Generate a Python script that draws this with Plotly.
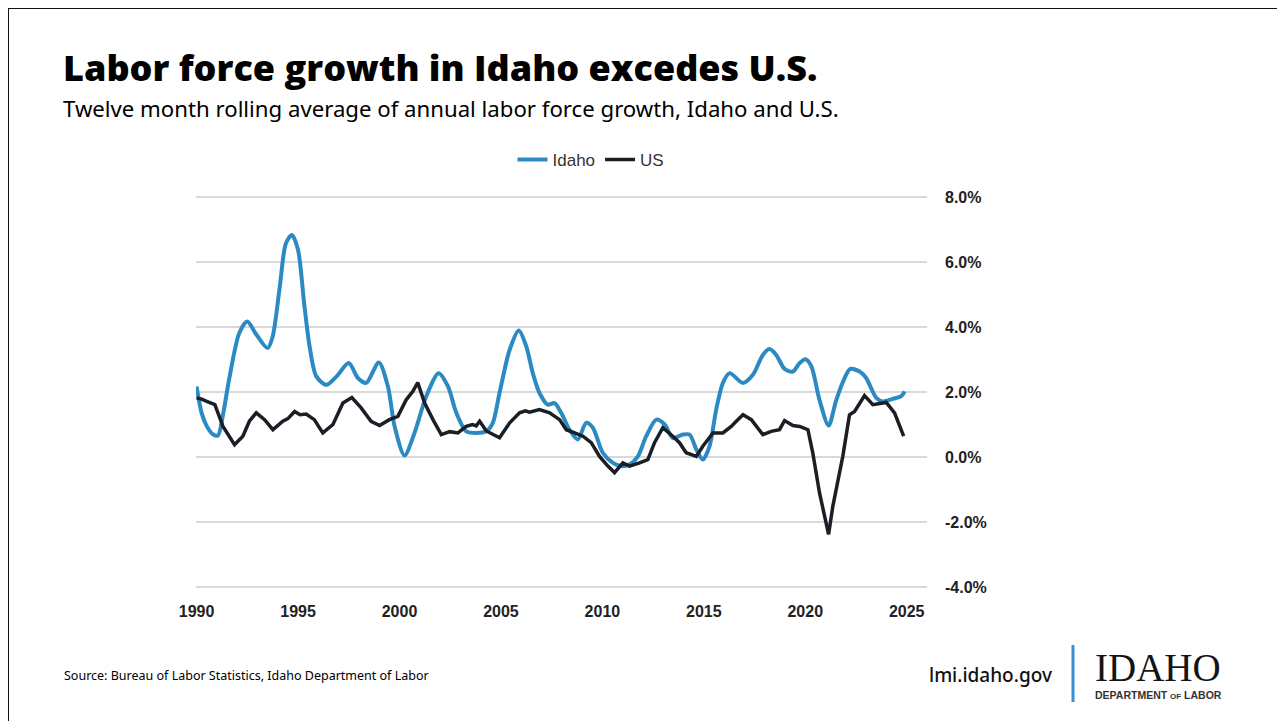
import plotly.graph_objects as go

# ---------------- data ----------------
idaho_x = [1990.0, 1990.25, 1990.5, 1990.8, 1991.05, 1991.3, 1991.6, 1992.1, 1992.5, 1992.9,
           1993.5, 1993.75, 1994.1, 1994.4, 1994.7, 1995.0, 1995.3, 1995.57, 1995.9, 1996.4,
           1996.9, 1997.5, 1997.95, 1998.36, 1998.98, 1999.43, 1999.76, 2000.25, 2000.74, 2001.32,
           2001.93, 2002.39, 2002.8, 2003.29, 2003.78, 2004.28, 2004.6, 2004.93, 2005.43, 2005.88,
           2006.25, 2006.57, 2006.9, 2007.31, 2007.64, 2007.97, 2008.38, 2008.79, 2009.2, 2009.53,
           2010.02, 2010.52, 2010.93, 2011.34, 2011.75, 2012.16, 2012.66, 2013.07, 2013.47, 2013.97,
           2014.3, 2014.63, 2014.95, 2015.28, 2015.61, 2015.94, 2016.27, 2016.93, 2017.42, 2017.91,
           2018.24, 2018.57, 2018.98, 2019.39, 2019.72, 2020.01, 2020.3, 2020.7, 2021.15, 2021.53,
           2021.94, 2022.22, 2022.68, 2023.0, 2023.5, 2023.82, 2024.32, 2024.73, 2024.9]
idaho_y = [2.17, 1.35, 0.95, 0.70, 0.66, 1.30, 2.38, 3.81, 4.17, 3.81,
           3.35, 3.71, 5.24, 6.57, 6.83, 6.37, 4.73, 3.40, 2.48, 2.22,
           2.48, 2.89, 2.43, 2.28, 2.91, 2.17, 0.94, 0.05, 0.74, 1.87,
           2.58, 2.17, 1.36, 0.79, 0.74, 0.79, 1.05, 1.97, 3.30, 3.89,
           3.40, 2.58, 1.97, 1.61, 1.66, 1.36, 0.84, 0.54, 1.05, 0.90,
           0.13, -0.18, -0.28, -0.23, 0.02, 0.64, 1.15, 1.00, 0.59, 0.69,
           0.69, 0.23, -0.08, 0.33, 1.46, 2.28, 2.58, 2.28, 2.53, 3.14,
           3.32, 3.14, 2.71, 2.63, 2.89, 3.01, 2.79, 1.76, 0.97, 1.76,
           2.43, 2.71, 2.63, 2.43, 1.82, 1.71, 1.79, 1.87, 2.02]

us_x = [1990.0, 1990.25, 1990.5, 1990.9, 1991.3, 1991.87, 1992.28, 1992.6, 1992.94, 1993.35,
        1993.76, 1994.25, 1994.5, 1994.83, 1995.1, 1995.4, 1995.8, 1996.22, 1996.72, 1997.21,
        1997.65, 1998.11, 1998.6, 1999.02, 1999.5, 1999.92, 2000.33, 2000.66, 2000.9, 2001.24,
        2001.65, 2002.06, 2002.47, 2002.88, 2003.29, 2003.6, 2003.78, 2003.95, 2004.28, 2004.93,
        2005.43, 2005.92, 2006.2, 2006.41, 2006.9, 2007.4, 2007.89, 2008.22, 2008.63, 2009.04,
        2009.45, 2009.86, 2010.27, 2010.6, 2011.01, 2011.34, 2011.83, 2012.24, 2012.57, 2012.98,
        2013.47, 2013.8, 2014.13, 2014.63, 2014.95, 2015.45, 2015.94, 2016.35, 2016.6, 2016.93,
        2017.34, 2017.91, 2018.32, 2018.73, 2018.98, 2019.39, 2019.72, 2020.13, 2020.37, 2020.7,
        2021.15, 2021.36, 2021.85, 2022.18, 2022.43, 2022.92, 2023.33, 2023.82, 2023.99, 2024.4,
        2024.85]
us_y = [1.82, 1.78, 1.71, 1.61, 0.94, 0.38, 0.64, 1.10, 1.36, 1.15,
        0.84, 1.10, 1.18, 1.40, 1.30, 1.32, 1.15, 0.74, 1.00, 1.66,
        1.83, 1.51, 1.10, 0.97, 1.15, 1.25, 1.76, 2.02, 2.29, 1.66,
        1.15, 0.69, 0.78, 0.74, 0.94, 1.00, 0.96, 1.10, 0.80, 0.59,
        1.05, 1.36, 1.42, 1.38, 1.46, 1.36, 1.15, 0.84, 0.74, 0.64,
        0.44, 0.02, -0.28, -0.48, -0.18, -0.28, -0.18, -0.08, 0.44, 0.90,
        0.64, 0.44, 0.13, 0.02, 0.33, 0.74, 0.74, 0.94, 1.10, 1.30,
        1.15, 0.69, 0.79, 0.84, 1.12, 0.97, 0.94, 0.84, 0.13, -1.10,
        -2.38, -1.51, 0.02, 1.30, 1.40, 1.89, 1.61, 1.66, 1.68, 1.36,
        0.64]

x_tick_vals = [1990, 1995, 2000, 2005, 2010, 2015, 2020, 2025]
x_tick_text = ["1990", "1995", "2000", "2005", "2010", "2015", "2020", "2025"]
y_tick_vals = [-4, -2, 0, 2, 4, 6, 8]
y_tick_text = ["-4.0%", "-2.0%", "0.0%", "2.0%", "4.0%", "6.0%", "8.0%"]

title_text = "Labor force growth in Idaho excedes U.S."
subtitle_text = "Twelve month rolling average of annual labor force growth, Idaho and U.S."
source_text = "Source: Bureau of Labor Statistics, Idaho Department of Labor"

# ---------------- layout helpers ----------------
# The page body has an 8px default margin, so the figure starts at (8, 8) in the window.
OX, OY = 8, 8
W, H = 1285 - OX, 721 - OY
PX_PER_UNIT = 32.5
PADPX = 3                       # keeps the 8% and -4% grid lines inside the plot area
PLOT_L, PLOT_R = 196, 927
PLOT_T, PLOT_B = 197 - PADPX, 587 + PADPX
L, R = PLOT_L - OX, W - (PLOT_R - OX)
T, B = PLOT_T - OY, H - (PLOT_B - OY)
PW, PH = W - L - R, H - T - B
YPAD = PADPX / PX_PER_UNIT


def px(x):
    return (x - OX - L) / PW


def py(y):
    return (H - B - (y - OY)) / PH


fig = go.Figure()
fig.add_trace(go.Scatter(x=idaho_x, y=idaho_y, name="Idaho", mode="lines",
                         line=dict(color="#2b8ac2", width=4, shape="spline", smoothing=0.8)))
fig.add_trace(go.Scatter(x=us_x, y=us_y, name="US", mode="lines",
                         line=dict(color="#1b1e25", width=3.5)))

fig.update_layout(
    width=W, height=H,
    margin=dict(l=L, r=R, t=T, b=B),
    paper_bgcolor="white", plot_bgcolor="white",
    showlegend=True,
    legend=dict(orientation="h", x=px(591), xanchor="center", y=py(160), yanchor="middle",
                font=dict(family="Liberation Sans, Arial, sans-serif", size=17, color="#333333"),
                itemwidth=30, tracegroupgap=0, bgcolor="rgba(0,0,0,0)"),
    xaxis=dict(range=[1989.97, 2026], tickvals=x_tick_vals, ticktext=x_tick_text,
               showgrid=False, zeroline=False, showline=False, ticks="",
               ticklabelstandoff=10,
               tickfont=dict(family="Liberation Sans, Arial, sans-serif",
                             size=16, color="#222222", weight="bold")),
    yaxis=dict(range=[-4 - YPAD, 8 + YPAD], side="right", tickvals=y_tick_vals, ticktext=y_tick_text,
               showgrid=True, gridcolor="#d9d9d9", gridwidth=1.5, zeroline=False,
               showline=False, ticks="", ticklabelstandoff=17,
               tickfont=dict(family="Liberation Sans, Arial, sans-serif", size=16,
                             color="#222222", weight="bold")),
    font=dict(family="Liberation Sans, Arial, sans-serif"),
)

ann = [
    dict(text=title_text, x=px(63), y=py(92.5), xanchor="left", yanchor="bottom",
         font=dict(family="Open Sans, Noto Sans, sans-serif", size=36, color="#000000", weight=800)),
    dict(text=subtitle_text, x=px(63), y=py(93), xanchor="left", yanchor="top",
         font=dict(family="Noto Sans, Open Sans, sans-serif", size=22.2, color="#000000")),
    dict(text=source_text, x=px(64), y=py(675), xanchor="left", yanchor="middle",
         font=dict(family="Noto Sans, Open Sans, sans-serif", size=12.5, color="#000000")),
    dict(text="lmi.idaho.gov", x=px(1053), y=py(675), xanchor="right", yanchor="middle",
         font=dict(family="Noto Sans, Open Sans, sans-serif", size=19, color="#111111", weight=500)),
    dict(text="IDAHO", x=px(1158), y=py(667), xanchor="center", yanchor="middle",
         font=dict(family="Liberation Serif, DejaVu Serif, serif", size=39, color="#141414")),
    dict(text="DEPARTMENT <span style='font-size:8px'>OF</span> LABOR", x=px(1158), y=py(695),
         xanchor="center", yanchor="middle",
         font=dict(family="Liberation Sans, Arial, sans-serif", size=10.5, color="#333333", weight="bold")),
]
for a in ann:
    a.update(xref="paper", yref="paper", showarrow=False, borderpad=0, borderwidth=0)
fig.update_layout(annotations=ann)

fig.update_layout(shapes=[
    dict(type="line", xref="paper", yref="paper", x0=px(1073), x1=px(1073), y0=py(645), y1=py(702),
         line=dict(color="#3b8fd0", width=3)),
    dict(type="rect", xref="paper", yref="paper", x0=px(8), x1=px(1282), y0=py(8), y1=py(740),
         line=dict(color="#111111", width=2), fillcolor="rgba(0,0,0,0)"),
])

fig.write_html("out.html")
